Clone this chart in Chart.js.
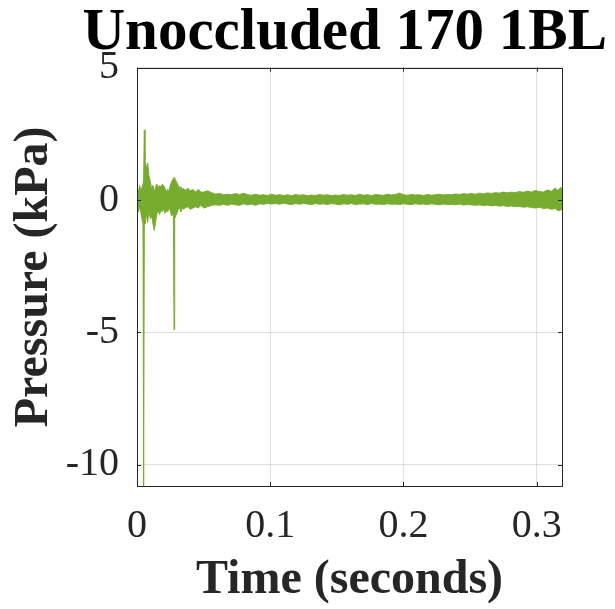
<!DOCTYPE html>
<html>
<head>
<meta charset="utf-8">
<title>Unoccluded 170 1BL</title>
<script src="https://cdn.jsdelivr.net/npm/chart.js@4/dist/chart.umd.min.js"></script>
<style>
	html, body { margin: 0; padding: 0; background: #fff; }
	#myChartPressure { display: block; }
</style>
</head>
<body>
<canvas id="myChartPressure" width="615" height="609"></canvas>
<script>
// time (s) and the upper / lower edge of the pressure trace (kPa)
var timeS = [
	0.000, 0.001, 0.002, 0.003, 0.0045, 0.0050, 0.0055, 0.006, 0.007, 0.008,
	0.009, 0.010, 0.011, 0.012, 0.013, 0.014, 0.015, 0.016, 0.017, 0.018,
	0.019, 0.020, 0.021, 0.022, 0.023, 0.024, 0.025, 0.026, 0.0273, 0.0278,
	0.0283, 0.029, 0.030, 0.031, 0.032, 0.033, 0.034, 0.035, 0.036, 0.038,
	0.040, 0.042, 0.044, 0.046, 0.048, 0.050, 0.053, 0.056, 0.059, 0.062,
	0.065, 0.068, 0.071, 0.074, 0.077, 0.080, 0.083, 0.086, 0.089, 0.092,
	0.095, 0.098, 0.101, 0.104, 0.107, 0.110, 0.113, 0.116, 0.119, 0.122,
	0.125, 0.128, 0.131, 0.134, 0.137, 0.140, 0.143, 0.146, 0.149, 0.152,
	0.155, 0.158, 0.161, 0.164, 0.167, 0.170, 0.173, 0.176, 0.179, 0.182,
	0.185, 0.188, 0.191, 0.194, 0.197, 0.200, 0.203, 0.206, 0.209, 0.212,
	0.215, 0.218, 0.221, 0.224, 0.227, 0.230, 0.233, 0.236, 0.239, 0.242,
	0.245, 0.248, 0.251, 0.254, 0.257, 0.260, 0.263, 0.266, 0.269, 0.272,
	0.275, 0.278, 0.281, 0.284, 0.287, 0.290, 0.293, 0.296, 0.299, 0.302,
	0.305, 0.308, 0.311, 0.314, 0.316, 0.318, 0.319
];
var pressHigh = [
	0.45, 0.30, 0.55, 0.35, 0.60, 0.80, 2.65, 1.50, 1.20, 1.40,
	0.90, 0.70, 0.40, 0.55, 0.30, 0.50, 0.60, 0.45, 0.55, 0.50,
	0.60, 0.55, 0.45, 0.30, 0.40, 0.35, 0.55, 0.70, 0.80, 0.85,
	0.80, 0.75, 0.65, 0.55, 0.45, 0.50, 0.40, 0.45, 0.35, 0.45,
	0.35, 0.40, 0.30, 0.40, 0.30, 0.30, 0.35, 0.28, 0.22, 0.25,
	0.20, 0.22, 0.20, 0.25, 0.20, 0.26, 0.20, 0.18, 0.22, 0.18,
	0.20, 0.17, 0.22, 0.18, 0.20, 0.17, 0.20, 0.16, 0.21, 0.18,
	0.20, 0.16, 0.19, 0.17, 0.21, 0.18, 0.20, 0.16, 0.19, 0.17,
	0.21, 0.18, 0.20, 0.17, 0.22, 0.18, 0.20, 0.17, 0.21, 0.19,
	0.18, 0.22, 0.19, 0.21, 0.26, 0.20, 0.18, 0.21, 0.19, 0.20,
	0.17, 0.21, 0.18, 0.20, 0.22, 0.19, 0.21, 0.20, 0.23, 0.21,
	0.24, 0.22, 0.25, 0.22, 0.26, 0.23, 0.27, 0.25, 0.28, 0.26,
	0.30, 0.27, 0.30, 0.28, 0.32, 0.29, 0.34, 0.30, 0.36, 0.32,
	0.30, 0.38, 0.33, 0.45, 0.36, 0.48, 0.40
];
var pressLow = [
	-0.35, -0.45, -0.25, -0.50, -0.90, -10.9, -0.60, -0.90, -0.50, -0.85,
	-0.40, -0.70, -0.60, -0.90, -1.15, -0.80, -0.50, -0.40, -0.55, -0.35,
	-0.45, -0.30, -0.50, -0.40, -0.45, -0.30, -0.40, -0.60, -0.50, -4.90,
	-0.70, -0.60, -0.50, -0.35, -0.30, -0.45, -0.30, -0.35, -0.30, -0.25,
	-0.35, -0.30, -0.25, -0.30, -0.20, -0.30, -0.25, -0.20, -0.18, -0.20,
	-0.16, -0.20, -0.15, -0.18, -0.20, -0.14, -0.18, -0.15, -0.20, -0.14,
	-0.16, -0.13, -0.15, -0.13, -0.16, -0.12, -0.15, -0.17, -0.13, -0.16,
	-0.12, -0.15, -0.17, -0.13, -0.16, -0.14, -0.17, -0.13, -0.15, -0.18,
	-0.14, -0.16, -0.13, -0.17, -0.15, -0.14, -0.17, -0.13, -0.16, -0.15,
	-0.17, -0.14, -0.16, -0.15, -0.17, -0.14, -0.16, -0.17, -0.14, -0.16,
	-0.15, -0.17, -0.14, -0.16, -0.18, -0.15, -0.17, -0.16, -0.18, -0.15,
	-0.19, -0.17, -0.18, -0.20, -0.18, -0.21, -0.19, -0.22, -0.20, -0.23,
	-0.21, -0.24, -0.22, -0.25, -0.24, -0.27, -0.25, -0.28, -0.30, -0.27,
	-0.32, -0.30, -0.35, -0.32, -0.40, -0.38, -0.35
];
var xTicks = [0, 0.1, 0.2, 0.3];
var yTicks = [-10, -5, 0, 5];

var myChartPressure = null;

// MATLAB style box with inward ticks on all four sides
var axisBox = {
	id: 'axisBox',
	afterDatasetsDraw: function (chart) {
		var ctx = chart.ctx;
		var a = chart.chartArea;
		var len = 4;
		ctx.save();
		ctx.strokeStyle = '#262626';
		ctx.lineWidth = 1;
		ctx.strokeRect(Math.round(a.left) + 0.5, Math.round(a.top) + 0.5,
			Math.round(a.right - a.left), Math.round(a.bottom - a.top));
		ctx.beginPath();
		chart.scales.x.ticks.forEach(function (t) {
			var px = Math.round(chart.scales.x.getPixelForValue(t.value)) + 0.5;
			ctx.moveTo(px, a.bottom); ctx.lineTo(px, a.bottom - len);
			ctx.moveTo(px, a.top); ctx.lineTo(px, a.top + len);
		});
		chart.scales.y.ticks.forEach(function (t) {
			var py = Math.round(chart.scales.y.getPixelForValue(t.value)) + 0.5;
			ctx.moveTo(a.left, py); ctx.lineTo(a.left + len, py);
			ctx.moveTo(a.right, py); ctx.lineTo(a.right - len, py);
		});
		ctx.stroke();
		ctx.restore();
	}
};

var grafik = {
	startUp: function () {
		grafik.chartPressure();
	}, // end - startUp

	chartPressure: function () {
		var green = 'rgb(119, 172, 48)';
		var serif = "'Liberation Serif', 'Times New Roman', serif";

		var high = [];
		var low = [];
		for (var i = 0; i < timeS.length; i++) {
			high[i] = { x: timeS[i], y: pressHigh[i] };
			low[i] = { x: timeS[i], y: pressLow[i] };
		}

		if ( myChartPressure !== null ) {
			myChartPressure.destroy();
		}

		myChartPressure = new Chart("myChartPressure", {
			type: "line",
			data: {
				datasets: [{
					data: high,
					borderColor: green,
					backgroundColor: green,
					borderWidth: 1,
					pointRadius: 0,
					tension: 0,
					fill: '+1'
				}, {
					data: low,
					borderColor: green,
					backgroundColor: green,
					borderWidth: 1,
					pointRadius: 0,
					tension: 0,
					fill: false
				}]
			},
			options: {
				responsive: false,
				animation: false,
				layout: { padding: { left: 0, right: 8, top: 0, bottom: 0 } },
				plugins: {
					legend: { display: false },
					tooltip: { enabled: false },
					title: {
						display: true,
						text: 'Unoccluded 170 1BL',
						align: 'end',
						color: '#000',
						font: { family: serif, size: 59, weight: 'bold', lineHeight: 1.13 },
						padding: { top: 0, bottom: 1 }
					}
				},
				scales: {
					x: {
						type: 'linear',
						min: 0,
						max: 0.319,
						afterBuildTicks: function (scale) {
							scale.ticks = xTicks.map(function (v) { return { value: v }; });
						},
						afterFit: function (scale) { scale.height = 123; },
						grid: { color: 'rgba(38,38,38,0.15)', drawTicks: false },
						border: { display: false },
						ticks: {
							color: '#262626',
							padding: 16,
							maxRotation: 0,
							font: { family: serif, size: 40 },
							callback: function (v) { return String(v); }
						},
						title: {
							display: true,
							text: 'Time (seconds)',
							color: '#262626',
							font: { family: serif, size: 48, weight: 'bold' },
							padding: { top: 0, bottom: 0 }
						}
					},
					y: {
						type: 'linear',
						min: -10.8,
						max: 5,
						afterBuildTicks: function (scale) {
							scale.ticks = yTicks.map(function (v) { return { value: v }; });
						},
						afterFit: function (scale) { scale.width = 137; },
						grid: { color: 'rgba(38,38,38,0.15)', drawTicks: false },
						border: { display: false },
						ticks: {
							color: '#262626',
							padding: 18,
							font: { family: serif, size: 40 },
							callback: function (v) { return String(v); }
						},
						title: {
							display: true,
							text: 'Pressure (kPa)',
							color: '#262626',
							font: { family: serif, size: 48, weight: 'bold' },
							padding: { top: 6, bottom: 0 }
						}
					},
					// empty right side strip, keeps the plot box off the right edge
					yRight: {
						type: 'linear',
						position: 'right',
						min: -10.8,
						max: 5,
						afterFit: function (scale) { scale.width = 45; },
						grid: { display: false, drawTicks: false },
						border: { display: false },
						ticks: { display: false }
					}
				}
			},
			plugins: [axisBox]
		});
	} // end - chartPressure
};

grafik.startUp();
</script>
</body>
</html>
